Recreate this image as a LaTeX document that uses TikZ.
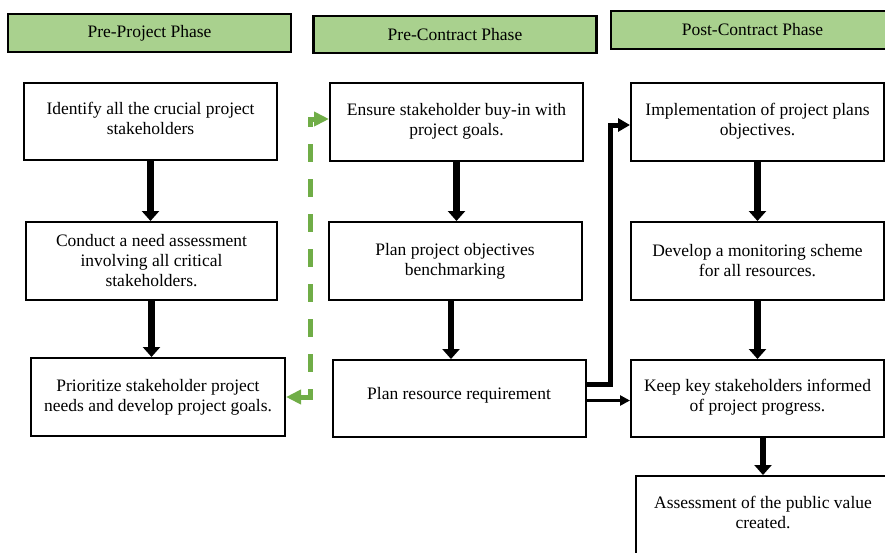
\documentclass[tikz,border=0pt]{standalone}
\usepackage{fontspec}
\setmainfont{Liberation Serif}
\usetikzlibrary{arrows.meta}
\definecolor{phasegreen}{RGB}{169,209,142}
\definecolor{linkgreen}{RGB}{112,173,71}

\begin{document}
\begin{tikzpicture}[x=1pt, y=-1pt, font=\fontsize{17.5}{20}\selectfont,
  box/.style={draw, line width=2pt, align=center, minimum width=253pt, minimum height=78pt, inner sep=2pt},
  phase/.style={draw, line width=2.5pt, fill=phasegreen, minimum width=283pt, minimum height=38pt},
  flow/.style={line width=6.5pt, -{Triangle[width=17pt, length=10pt]}}]
  \useasboundingbox (0,0) rectangle (885,552);
  % --- phase headers ---
  \node[phase] (pre) at (149.5,33) {Pre-Project Phase};
  \node[phase, minimum height=37pt] (precon) at (455,34.5) {Pre-Contract Phase};
  \node[phase] (postcon) at (752.5,30) {Post-Contract Phase};
  % --- pre-project column ---
  \node[box, minimum height=77pt] (ident) at (150.5,121.5)
       {Identify all the crucial project\\stakeholders\\[-14pt]};
  \node[box, minimum width=251pt] (assess) at (151.5,261)
       {Conduct a need assessment\\involving all critical\\stakeholders.};
  \node[box, minimum width=254pt] (prior) at (158,397)
       {Prioritize stakeholder project\\needs and develop project goals.};
  % --- pre-contract column ---
  \node[box] (buyin) at (456.5,122) {Ensure stakeholder buy-in with\\project goals.\\[-14pt]};
  \node[box] (bench) at (455,261) {Plan project objectives\\benchmarking};
  \node[box, minimum height=77pt] (resrc) at (459,398.5) {Plan resource requirement\\[-10pt]};
  % --- post-contract column ---
  \node[box] (impl) at (757.5,122) {Implementation of project plans\\objectives.\\[-14pt]};
  \node[box] (monit) at (757.5,261) {Develop a monitoring scheme\\for all resources.};
  \node[box, minimum height=77pt] (inform) at (757.5,398.5)
       {Keep key stakeholders informed\\of project progress.\\[-14pt]};
  \node[box, minimum width=254pt, minimum height=84pt] (value) at (763,518)
       {Assessment of the public value\\created.\\[-8pt]};
  % --- flow inside the columns ---
  \draw[flow] (ident.south) -- (ident.south |- assess.north);
  \draw[flow] (assess.south) -- (assess.south |- prior.north);
  \draw[flow] (buyin.south) -- (buyin.south |- bench.north);
  \draw[flow] ([xshift=-4pt]bench.south) -- ([xshift=-4pt]bench.south |- resrc.north);
  \draw[flow] (impl.south) -- (impl.south |- monit.north);
  \draw[flow] (monit.south) -- (monit.south |- inform.north);
  \draw[flow] (value.north |- inform.south) -- (value.north);
  % --- links between the phases ---
  \draw[linkgreen, line width=5pt, dash pattern=on 18pt off 17pt,
        {Triangle[width=14pt, length=15pt]}-{Triangle[width=14pt, length=15pt]}]
       (prior.east) -- ++(24,0) |- ([yshift=3pt]buyin.west);
  \draw[line width=5pt, -{Triangle[width=13pt, length=12pt]}]
       ([yshift=14pt]resrc.east) -- ++(24,0) |- ([yshift=-3pt]impl.west);
  \draw[line width=3pt, -{Triangle[width=10pt, length=10pt]}]
       ([yshift=-2pt]resrc.east) -- ([yshift=-2pt]inform.west);
\end{tikzpicture}
\end{document}
